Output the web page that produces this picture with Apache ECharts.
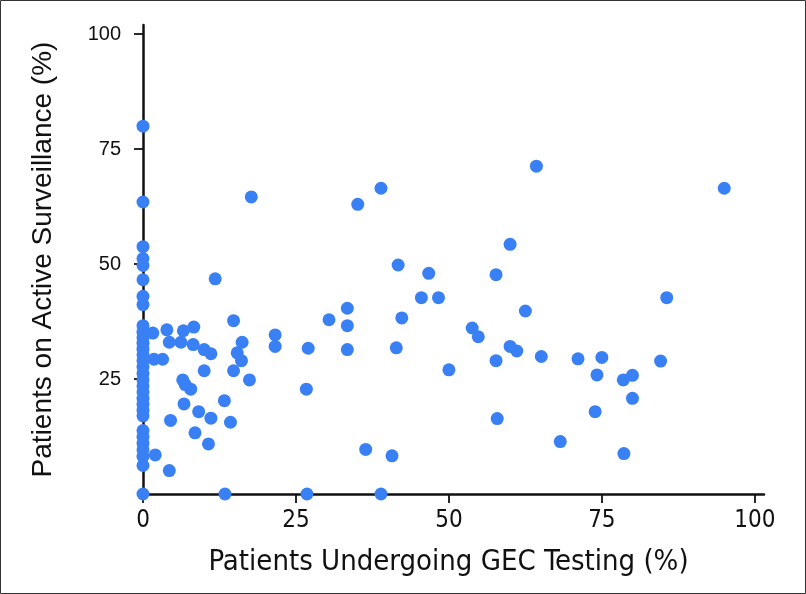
<!DOCTYPE html>
<html>
<head>
<meta charset="utf-8">
<script src="https://cdn.jsdelivr.net/npm/echarts@6/dist/echarts.min.js"></script>
<style>
html,body{margin:0;padding:0;background:#fff;}
#chart{width:806px;height:594px;}
</style>
</head>
<body>
<div id="chart"></div>
<script>
// Patients undergoing GEC testing (%) for each practice
const xValues = [
  0,0,0,0,0,0,0,0,0,0,0,0,0,0,0,0,0,0,0,0,0,0,0,0,0,0,0,0,0,0,0,
  1.6,3.9,6.6,8.3,14.8,4.3,6.2,8.2,10.0,11.1,16.2,15.4,16.1,21.6,21.6,1.8,3.2,10.0,14.8,17.4,
  6.5,6.9,7.8,6.7,9.1,11.1,4.5,13.3,14.3,8.5,10.7,2.0,4.3,13.4,11.8,17.7,
  35.1,38.9,41.7,46.7,45.5,48.3,42.3,30.4,33.4,33.4,33.4,27.0,41.4,26.7,36.4,40.7,26.8,38.9,
  50.0,53.8,54.8,57.7,60.0,57.7,57.9,60.0,61.1,62.5,
  64.3,95.0,85.6,65.1,71.1,75.0,74.2,78.5,80.0,80.0,84.6,73.9,68.2,78.6
];
// Patients on active surveillance (%) for each practice
const yValues = [
  80,63.5,53.8,51.2,49.7,46.6,43.0,41.2,36.6,35.2,34.0,32.8,31.5,30.3,29.0,27.6,26.2,24.8,23.5,22.2,20.8,19.5,18.2,17.0,13.8,12.4,11.0,9.6,8.2,6.2,0,
  35.0,35.7,35.5,36.3,37.7,33.0,33.0,32.5,31.4,30.5,33.0,30.7,29.0,34.6,32.1,29.3,29.3,26.8,26.8,24.8,
  24.8,23.8,22.8,19.6,17.9,16.5,16.0,20.3,15.6,13.3,10.9,8.5,5.1,0,46.8,64.6,
  63.0,66.5,49.8,48.0,42.7,42.7,38.3,37.9,40.4,36.6,31.4,31.7,31.8,22.8,9.7,8.3,0,0,
  27.0,36.1,34.2,47.7,54.3,29.0,16.4,32.1,31.1,39.8,
  71.3,66.5,42.7,29.9,29.4,29.7,25.9,24.8,25.8,20.8,28.9,17.9,11.4,8.8
];
const xTicks = [0, 25, 50, 75, 100];
const yTicks = [25, 50, 75, 100];
const xTitle = 'Patients Undergoing GEC Testing (%)';
const yTitle = 'Patients on Active Surveillance (%)';

const points = xValues.map((x, i) => [x, yValues[i]]);
const narrow = '"Liberation Sans Narrow", "DejaVu Sans Condensed", "Liberation Sans", sans-serif';
const regular = '"Liberation Sans", Arial, sans-serif';

const chart = echarts.init(document.getElementById('chart'), null, {renderer: 'canvas'});
chart.setOption({
  animation: false,
  backgroundColor: '#ffffff',
  graphic: [{
    type: 'rect', silent: true, z: 100,
    shape: {x: 0.5, y: 0.5, width: 805, height: 593},
    style: {fill: 'none', stroke: '#333', lineWidth: 1}
  }],
  grid: {left: 143, right: 42, top: 25, bottom: 100, containLabel: false},
  xAxis: {
    type: 'value', min: 0, max: 101.5,
    splitLine: {show: false},
    axisLine: {show: true, onZero: false, lineStyle: {color: '#111', width: 2.5}},
    axisTick: {show: true, length: 9, customValues: xTicks, lineStyle: {color: '#111', width: 1.8}},
    axisLabel: {customValues: xTicks, margin: 15, fontFamily: narrow, fontSize: 24, color: '#111'},
    name: xTitle, nameLocation: 'middle', nameGap: 54,
    nameTextStyle: {fontFamily: narrow, fontSize: 29, color: '#111', padding: [0, 10, 0, 0]}
  },
  yAxis: {
    type: 'value', min: 0, max: 102,
    splitLine: {show: false},
    axisLine: {show: true, onZero: false, lineStyle: {color: '#111', width: 2.5}},
    axisTick: {show: true, length: 9, customValues: yTicks, lineStyle: {color: '#111', width: 1.8}},
    axisLabel: {customValues: yTicks, margin: 22, fontFamily: regular, fontSize: 20, color: '#111'},
    name: yTitle, nameLocation: 'middle', nameGap: 86,
    nameTextStyle: {fontFamily: regular, fontSize: 28, color: '#111'}
  },
  series: [{
    type: 'scatter',
    data: points,
    symbol: 'circle',
    symbolSize: 13,
    itemStyle: {color: '#3a80f5', opacity: 1},
    clip: false,
    z: 5
  }]
});
</script>
</body>
</html>
